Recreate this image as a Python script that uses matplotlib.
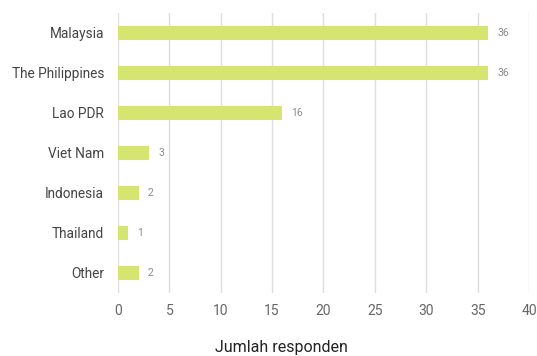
import matplotlib
matplotlib.use("Agg")
import matplotlib.pyplot as plt

countries = ["Malaysia", "The Philippines", "Lao PDR", "Viet Nam", "Indonesia", "Thailand", "Other"]
responden = [36, 36, 16, 3, 2, 1, 2]
x_ticks = [0, 5, 10, 15, 20, 25, 30, 35, 40]

plt.rcParams["font.family"] = ["Roboto", "DejaVu Sans"]

fig = plt.figure(figsize=(5.37, 3.56), dpi=100)
ax = fig.add_axes([0.2197, 0.177, 0.7653, 0.7865])

y = list(range(len(countries)))
ax.barh(y, responden, height=0.35, color="#d5e56f", zorder=3)
for yi, v in zip(y, responden):
    ax.text(v + 0.9, yi, str(v), va="center", ha="left", fontsize=7.5, color="#8a8a8a")

ax.set_ylim(len(countries) - 0.5, -0.5)
ax.set_xlim(0, 40)
ax.set_yticks(y)
ax.set_yticklabels(countries, fontsize=9.8, color="#444444")
ax.set_xticks(x_ticks)
ax.set_xticklabels([str(t) for t in x_ticks], fontsize=10, color="#666666")
ax.tick_params(axis="both", length=0)
ax.tick_params(axis="y", pad=10)
ax.tick_params(axis="x", pad=8)
ax.grid(axis="x", color="#dddddd", linewidth=1, zorder=0)
for s in ax.spines.values():
    s.set_visible(False)
ax.set_xlabel("Jumlah responden", fontsize=11.5, color="#222222", labelpad=16)
ax.xaxis.label.set_x(0.397)

fig.savefig("out.png", dpi=100)
